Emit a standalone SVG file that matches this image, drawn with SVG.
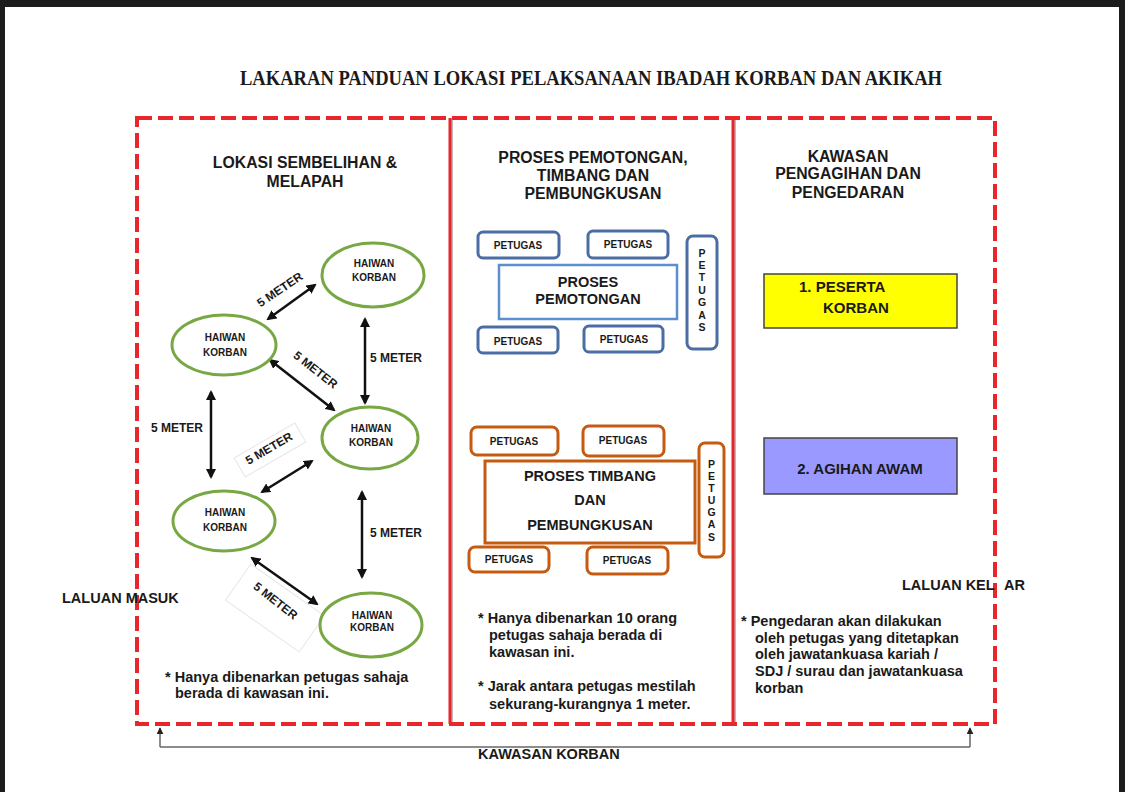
<svg xmlns="http://www.w3.org/2000/svg" width="1125" height="792" viewBox="0 0 1125 792">
<style>
text{font-family:"Liberation Sans",Arial,sans-serif;font-weight:bold;fill:#1a1a1a}
.h{font-size:15.8px;text-anchor:middle}
.ell{fill:#fff;stroke:#77a844;stroke-width:3}
.et{font-size:10px;text-anchor:middle}
.m{font-size:12px}
.arr{stroke:#111;stroke-width:2.5;fill:none;marker-start:url(#ah);marker-end:url(#ah)}
.note{font-size:14.5px}
.bp{fill:#fff;stroke:#4a6ea3;stroke-width:3}
.op{fill:#fff;stroke:#c55a11;stroke-width:3}
.pt{font-size:10px;text-anchor:middle}
.vt{font-size:10.5px;text-anchor:middle}
.big{font-size:14.5px;text-anchor:middle}
.lb{font-size:14.5px}
</style>
<defs>
<marker id="ah" viewBox="0 0 10 10" refX="8" refY="5" markerWidth="4" markerHeight="4" orient="auto-start-reverse" markerUnits="strokeWidth"><path d="M0,0 L10,5 L0,10 z" fill="#111"/></marker>
<marker id="ga" viewBox="0 0 10 10" refX="9" refY="5" markerWidth="7" markerHeight="7" orient="auto" markerUnits="userSpaceOnUse"><path d="M0,0 L10,5 L0,10 z" fill="#222"/></marker>
</defs>
<rect width="1125" height="792" fill="#fff"/>
<rect x="0" y="0" width="1125" height="7" fill="#1c1c1c"/>
<rect x="0" y="0" width="5" height="792" fill="#1c1c1c"/>
<rect x="1119" y="0" width="6" height="792" fill="#1c1c1c"/>

<text x="591" y="85" text-anchor="middle" style="font-family:'Liberation Serif','Times New Roman',serif;font-size:20px" textLength="702" lengthAdjust="spacingAndGlyphs">LAKARAN PANDUAN LOKASI PELAKSANAAN IBADAH KORBAN DAN AKIKAH</text>

<g id="frame">
<line x1="452" y1="118" x2="452" y2="724" stroke="#777" stroke-width="1"/>
<line x1="450" y1="118" x2="450" y2="724" stroke="#e8262b" stroke-width="3"/>
<line x1="735" y1="118" x2="735" y2="724" stroke="#777" stroke-width="1"/>
<line x1="733" y1="118" x2="733" y2="724" stroke="#e8262b" stroke-width="3"/>
<rect x="137" y="118" width="858" height="606" fill="none" stroke="#e8262b" stroke-width="4" stroke-dasharray="15 6"/>
</g>

<g id="section1">
<text class="h" x="305" y="168">LOKASI SEMBELIHAN &amp;</text>
<text class="h" x="305" y="187">MELAPAH</text>
</g>

<g id="labels-boxes">
<rect x="-35" y="-11" width="70" height="22" transform="translate(270,450) rotate(-30)" fill="#fff" stroke="#e6e6e6" stroke-width="1"/>
<rect x="-45" y="-22" width="90" height="44" transform="translate(275,608) rotate(35)" fill="#fff" stroke="#e6e6e6" stroke-width="1"/>
</g>

<g id="connectors">
<line class="arr" x1="268" y1="319" x2="315" y2="285"/>
<line class="arr" x1="365" y1="319" x2="365" y2="403"/>
<line class="arr" x1="270" y1="360" x2="334" y2="410"/>
<line class="arr" x1="211" y1="392" x2="211" y2="477"/>
<line class="arr" x1="262" y1="492" x2="312" y2="461"/>
<line class="arr" x1="362" y1="492" x2="362" y2="577"/>
<line class="arr" x1="252" y1="558" x2="317" y2="604"/>
<text class="m" x="0" y="0" text-anchor="middle" transform="translate(282,293) rotate(-34)">5 METER</text>
<text class="m" x="370" y="362">5 METER</text>
<text class="m" x="0" y="0" text-anchor="middle" transform="translate(313,373) rotate(38)">5 METER</text>
<text class="m" x="151" y="432">5 METER</text>
<text class="m" x="0" y="0" text-anchor="middle" transform="translate(271,452) rotate(-30)">5 METER</text>
<text class="m" x="370" y="537">5 METER</text>
<text class="m" x="0" y="0" text-anchor="middle" transform="translate(273,604) rotate(38)">5 METER</text>
<polyline points="160,747 970,747" fill="none" stroke="#666" stroke-width="1.5"/>
<line x1="160" y1="747" x2="160" y2="728" stroke="#666" stroke-width="1.5" marker-end="url(#ga)"/>
<line x1="970" y1="747" x2="970" y2="728" stroke="#666" stroke-width="1.5" marker-end="url(#ga)"/>
</g>

<g id="haiwan1"><ellipse class="ell" cx="373" cy="275" rx="51" ry="32"/><text class="et" x="374" y="267">HAIWAN</text><text class="et" x="374" y="281">KORBAN</text></g>
<g id="haiwan2"><ellipse class="ell" cx="224" cy="345" rx="52" ry="30"/><text class="et" x="225" y="341">HAIWAN</text><text class="et" x="225" y="356">KORBAN</text></g>
<g id="haiwan3"><ellipse class="ell" cx="370" cy="438" rx="48" ry="31"/><text class="et" x="371" y="432">HAIWAN</text><text class="et" x="371" y="446">KORBAN</text></g>
<g id="haiwan4"><ellipse class="ell" cx="224" cy="521" rx="51" ry="30"/><text class="et" x="225" y="516">HAIWAN</text><text class="et" x="225" y="531">KORBAN</text></g>
<g id="haiwan5"><ellipse class="ell" cx="371" cy="625" rx="51" ry="32"/><text class="et" x="372" y="619">HAIWAN</text><text class="et" x="372" y="631">KORBAN</text></g>

<g id="note1">
<text class="note" x="165" y="682">* Hanya dibenarkan petugas sahaja</text>
<text class="note" x="175" y="698">berada di kawasan ini.</text>
</g>

<text id="laluan-masuk" class="lb" x="62" y="603">LALUAN MASUK</text>

<g id="section2">
<text class="h" x="593" y="163">PROSES PEMOTONGAN,</text>
<text class="h" x="593" y="181">TIMBANG DAN</text>
<text class="h" x="593" y="199">PEMBUNGKUSAN</text>
</g>

<g id="pemotongan">
<rect class="bp" x="478" y="232" width="81" height="26" rx="5"/><text class="pt" x="518" y="249">PETUGAS</text>
<rect class="bp" x="588" y="231" width="80" height="27" rx="5"/><text class="pt" x="628" y="248">PETUGAS</text>
<rect x="499" y="265" width="178" height="54" fill="#fff" stroke="#5b8fd0" stroke-width="2.5"/>
<text class="big" x="588" y="287">PROSES</text>
<text class="big" x="588" y="304">PEMOTONGAN</text>
<rect class="bp" x="478" y="327" width="80" height="26" rx="5"/><text class="pt" x="518" y="345">PETUGAS</text>
<rect class="bp" x="584" y="326" width="79" height="26" rx="5"/><text class="pt" x="624" y="343">PETUGAS</text>
<rect class="bp" x="687" y="236" width="30" height="113" rx="6"/>
<text class="vt" x="702" y="257">P</text><text class="vt" x="702" y="269">E</text><text class="vt" x="702" y="281">T</text><text class="vt" x="702" y="294">U</text><text class="vt" x="702" y="306">G</text><text class="vt" x="702" y="319">A</text><text class="vt" x="702" y="331">S</text>
</g>

<g id="timbang">
<rect class="op" x="471" y="427" width="87" height="28" rx="6"/><text class="pt" x="514" y="445">PETUGAS</text>
<rect class="op" x="583" y="426" width="81" height="30" rx="6"/><text class="pt" x="623" y="444">PETUGAS</text>
<rect x="485" y="461" width="210" height="82" fill="#fff" stroke="#c55a11" stroke-width="3"/>
<text class="big" x="590" y="481">PROSES TIMBANG</text>
<text class="big" x="590" y="505">DAN</text>
<text class="big" x="590" y="530">PEMBUNGKUSAN</text>
<rect class="op" x="469" y="547" width="80" height="25" rx="6"/><text class="pt" x="509" y="563">PETUGAS</text>
<rect class="op" x="587" y="547" width="81" height="27" rx="6"/><text class="pt" x="627" y="564">PETUGAS</text>
<rect class="op" x="699" y="443" width="25" height="114" rx="6"/>
<text class="vt" x="711.5" y="468">P</text><text class="vt" x="711.5" y="480">E</text><text class="vt" x="711.5" y="492">T</text><text class="vt" x="711.5" y="504">U</text><text class="vt" x="711.5" y="516">G</text><text class="vt" x="711.5" y="528">A</text><text class="vt" x="711.5" y="541">S</text>
</g>

<g id="note2">
<text class="note" x="478" y="623">* Hanya dibenarkan 10 orang</text>
<text class="note" x="489" y="640">petugas sahaja berada di</text>
<text class="note" x="489" y="657">kawasan ini.</text>
<text class="note" x="478" y="691">* Jarak antara petugas mestilah</text>
<text class="note" x="489" y="709">sekurang-kurangnya 1 meter.</text>
</g>

<g id="section3">
<text class="h" x="848" y="162">KAWASAN</text>
<text class="h" x="848" y="179">PENGAGIHAN DAN</text>
<text class="h" x="848" y="198">PENGEDARAN</text>
</g>

<g id="peserta">
<rect x="764" y="274" width="193" height="54" fill="#ffff00" stroke="#444" stroke-width="1.5"/>
<text x="799" y="292" style="font-size:15px">1.  PESERTA</text>
<text x="823" y="313" style="font-size:15px">KORBAN</text>
</g>

<g id="agihan">
<rect x="764" y="438" width="193" height="56" fill="#9999ff" stroke="#444" stroke-width="1.5"/>
<text x="860" y="474" style="font-size:15px;text-anchor:middle">2. AGIHAN AWAM</text>
</g>

<g id="laluan-keluar">
<text class="lb" x="902" y="590">LALUAN KEL</text>
<text class="lb" x="1004" y="590">AR</text>
</g>

<g id="note3">
<text class="note" x="741" y="626">* Pengedaran akan dilakukan</text>
<text class="note" x="755" y="643">oleh petugas yang ditetapkan</text>
<text class="note" x="755" y="659">oleh jawatankuasa kariah /</text>
<text class="note" x="755" y="676">SDJ / surau dan jawatankuasa</text>
<text class="note" x="755" y="693">korban</text>
</g>

<text id="kawasan-korban" class="lb" x="478" y="759">KAWASAN KORBAN</text>
</svg>
